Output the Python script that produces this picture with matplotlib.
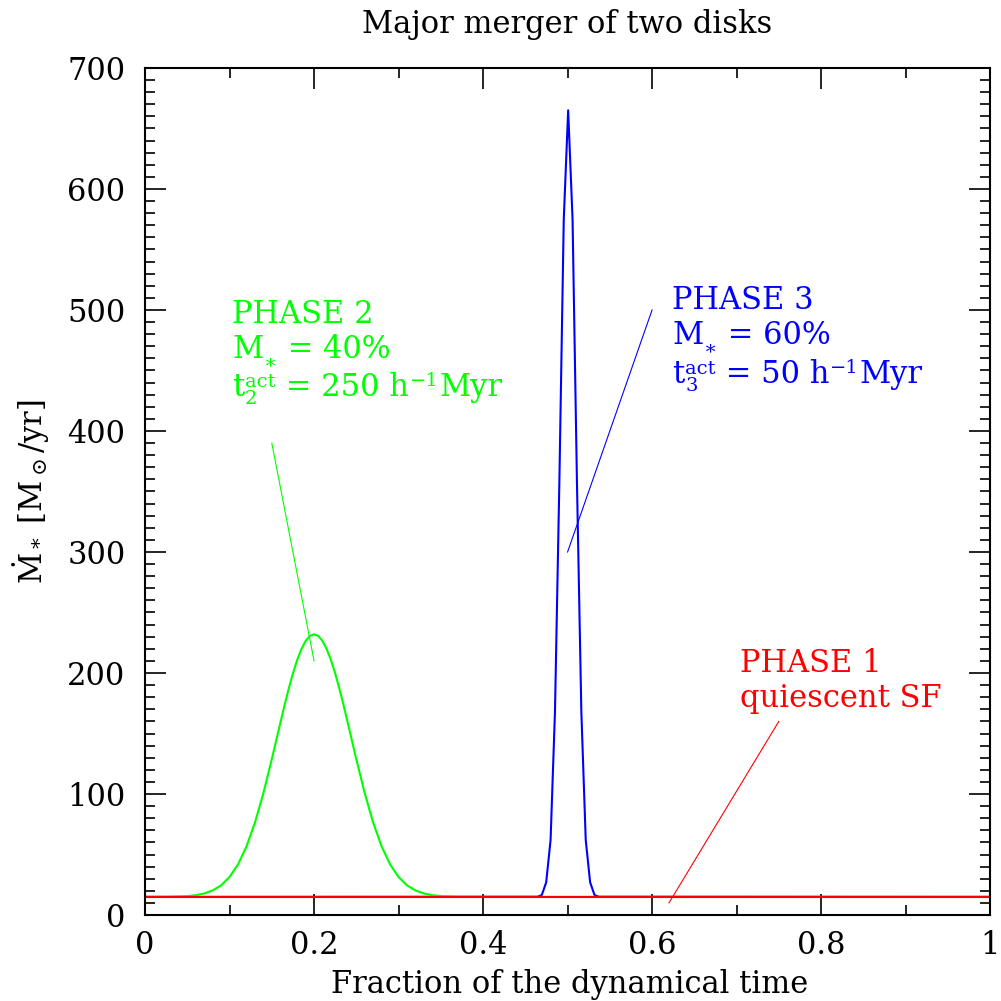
import numpy as np
import matplotlib
matplotlib.use("Agg")
import matplotlib.pyplot as plt

# star formation rate curves (M_sun/yr vs fraction of t_dyn)
red_x = [0.0, 1.0]
red_y = [15.0, 15.0]

green_x = [0.0, 0.03, 0.05, 0.06, 0.07, 0.08, 0.09, 0.10, 0.11, 0.12, 0.13, 0.14,
           0.15, 0.155, 0.16, 0.165, 0.17, 0.175, 0.18, 0.185, 0.19, 0.195, 0.20,
           0.205, 0.21, 0.215, 0.22, 0.225, 0.23, 0.235, 0.24, 0.245, 0.25, 0.26,
           0.27, 0.28, 0.29, 0.30, 0.31, 0.32, 0.33, 0.34, 0.35, 0.37, 0.40, 1.0]
green_y = [15.0, 15.1, 15.6, 16.4, 17.8, 20.3, 24.5, 31.4, 41.8, 56.6, 76.2, 100.6,
           128.8, 143.6, 158.5, 173.2, 187.0, 199.7, 210.7, 219.7, 226.5, 230.6, 232.0,
           230.6, 226.5, 219.7, 210.7, 199.7, 187.0, 173.2, 158.5, 143.6, 128.8, 100.6,
           76.2, 56.6, 41.8, 31.4, 24.5, 20.3, 17.8, 16.4, 15.6, 15.1, 15.0, 15.0]

blue_x = [0.0, 0.4643, 0.4695, 0.4747, 0.4799, 0.4851, 0.4903, 0.4955, 0.5007,
          0.5059, 0.5111, 0.5163, 0.5215, 0.5267, 0.5319, 0.5371, 1.0]
blue_y = [15.0, 15.1, 16.5, 27.0, 62.0, 168.0, 358.0, 575.0, 665.0,
          575.0, 358.0, 168.0, 62.0, 27.0, 16.5, 15.1, 15.0]

xticks = [0, 0.2, 0.4, 0.6, 0.8, 1.0]
xtick_labels = ["0", "0.2", "0.4", "0.6", "0.8", "1"]
yticks = [0, 100, 200, 300, 400, 500, 600, 700]

plt.rcParams["font.family"] = ["DejaVu Serif"]
plt.rcParams["mathtext.fontset"] = "dejavuserif"

fig = plt.figure(figsize=(10.01, 10.01), dpi=100)
ax = fig.add_axes([0.1449, 0.0859, 0.8442, 0.8462])

GREEN = "#00ff00"
BLUE = "#0000ff"
RED = "#ff0000"

ax.plot(blue_x, blue_y, color=BLUE, lw=1.5)
ax.plot(green_x, green_y, color=GREEN, lw=1.5)
ax.plot(red_x, red_y, color=RED, lw=1.5)

# pointer lines
ax.plot([0.15, 0.2], [390, 210], color=GREEN, lw=0.8)
ax.plot([0.6, 0.5], [500, 300], color=BLUE, lw=0.8)
ax.plot([0.62, 0.75], [10, 160], color=RED, lw=0.8)

fs = 22
fss = 14
# text boxes include the font descent, so shifts between sizes need this
desc = 0.23 * fs - 0.23 * fss


def shifted(txt, prev, dy, size, color):
    # put txt right after prev, bottom of box moved by dy points
    return ax.annotate(txt, xy=(1, 0), xycoords=prev, xytext=(0.5, dy),
                       textcoords="offset points", fontsize=size, color=color,
                       ha="left", va="bottom")


def mass_line(x, y, value, color):
    m = ax.text(x, y, "M", fontsize=fs, color=color)
    star = shifted("\u2217", m, desc - 6.5, fss, color)
    shifted(" = " + value, star, -(desc - 6.5), fs, color)


def time_line(x, y, idx, value, color):
    # t_i^act = value h^-1 Myr, built by hand so the superscripts stay low
    lift = 6.5 + desc
    drop = -5.5 + desc
    t = ax.text(x, y, "t", fontsize=fs, color=color)
    sup = shifted("act", t, lift, fss, color)
    shifted(idx, t, drop, fss, color)
    eq = shifted(" = " + value + " h", sup, -lift, fs, color)
    m1 = shifted("\u22121", eq, lift + 1, fss, color)
    shifted("Myr", m1, -lift - 1, fs, color)


ax.text(0.103, 489, "PHASE 2", color=GREEN, fontsize=fs)
mass_line(0.103, 460, "40%", GREEN)
time_line(0.103, 429, "2", "250", GREEN)

ax.text(0.6237, 501, "PHASE 3", color=BLUE, fontsize=fs)
mass_line(0.6237, 472, "60%", BLUE)
time_line(0.6237, 440, "3", "50", BLUE)

ax.text(0.704, 201, "PHASE 1", color=RED, fontsize=fs)
ax.text(0.704, 172, "quiescent SF", color=RED, fontsize=fs)

ax.set_xlim(0, 1)
ax.set_ylim(0, 700)
ax.set_xticks(xticks)
ax.set_xticklabels(xtick_labels)
ax.set_yticks(yticks)
ax.set_xticks(np.arange(0, 1.01, 0.1), minor=True)
ax.set_yticks(np.arange(0, 701, 10), minor=True)
ax.tick_params(which="both", direction="in", top=True, right=True, labelsize=fs)
ax.tick_params(which="major", length=15, width=1.2)
ax.tick_params(which="minor", length=7.5, width=1.2)
ax.tick_params(axis="x", pad=11)
ax.tick_params(axis="y", pad=14)
for sp in ax.spines.values():
    sp.set_linewidth(1.5)

ax.set_title("Major merger of two disks", fontsize=fs, pad=25)
ax.set_xlabel("Fraction of the dynamical time", fontsize=fs)
ax.set_ylabel(r"$\dot{\rm M}_*$ [M$_\odot$/yr]", fontsize=fs)
ax.xaxis.set_label_coords(0.503, -0.064)
ax.yaxis.set_label_coords(-0.11, 0.5)

fig.savefig("out.png", dpi=100)
